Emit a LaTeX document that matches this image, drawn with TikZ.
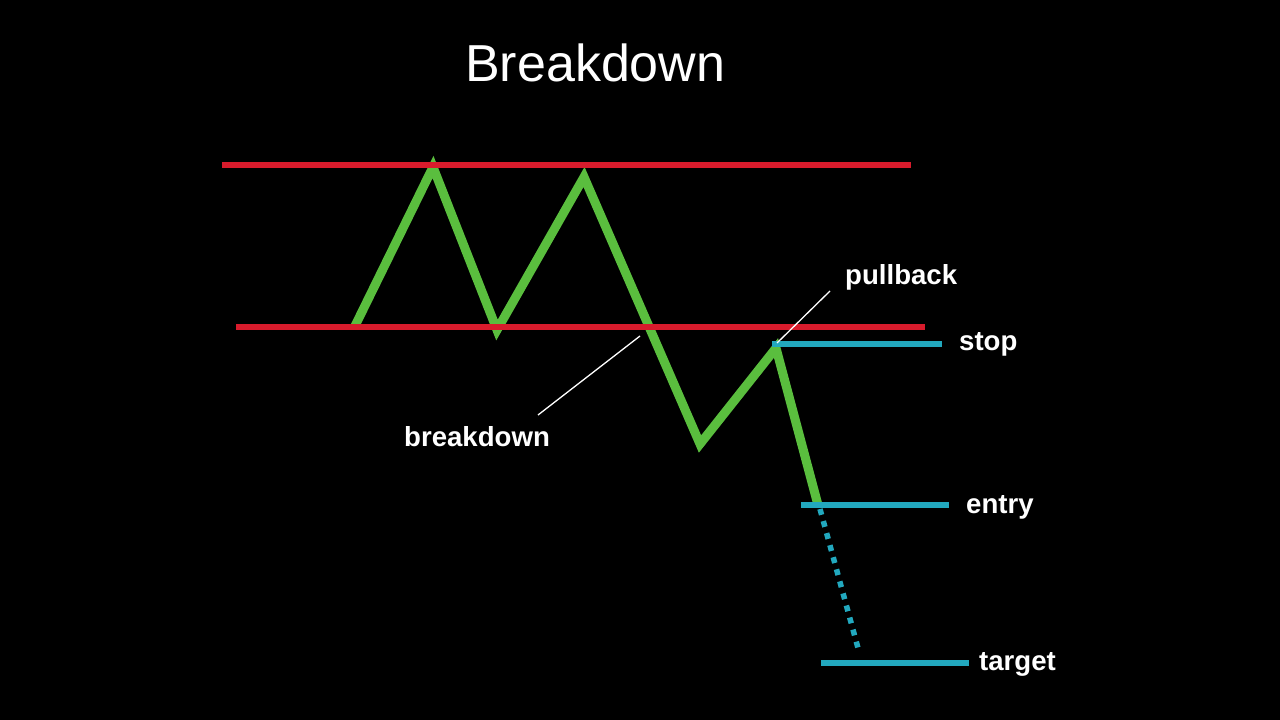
\documentclass[tikz,border=0pt]{standalone}
\usepackage{fontspec}
\setmainfont{Liberation Sans}
\begin{document}
\begin{tikzpicture}[x=1pt,y=-1pt,
  price/.style={draw=pgreen,line width=9pt,miter limit=10},
  level/.style={draw=pred,line width=6pt},
  tline/.style={draw=pcyan,line width=5.5pt},
  pointer/.style={draw=white,line width=1.3pt},
  lbl/.style={text=white,inner sep=0pt,anchor=base west,font=\fontsize{27.6}{32}\selectfont\bfseries},
  ttl/.style={text=white,inner sep=0pt,anchor=base west,font=\fontsize{52}{60}\selectfont}]
\definecolor{pgreen}{HTML}{5ABE3E}
\definecolor{pred}{HTML}{D81B2C}
\definecolor{pcyan}{HTML}{22A8BE}
\fill[black] (0,0) rectangle (1280,720);
\useasboundingbox (0,0) rectangle (1280,720);
% price vertices
\coordinate (p0) at (355,326);
\coordinate (p1) at (433,167);
\coordinate (p2) at (497,330);
\coordinate (p3) at (584,177);
\coordinate (p4) at (700,444);
\coordinate (p5) at (776,348);
\coordinate (p6) at (818,505);
\draw[price] (p0) -- (p1) -- (p2) -- (p3) -- (p4) -- (p5) -- (p6);
% red levels
\coordinate (r1a) at (222,165); \coordinate (r1b) at (911,165);
\coordinate (r2a) at (236,327); \coordinate (r2b) at (925,327);
\draw[level] (r1a) -- (r1b);
\draw[level] (r2a) -- (r2b);
% cyan levels
\coordinate (sa) at (772,344); \coordinate (sb) at (942,344);
\coordinate (ea) at (801,505); \coordinate (eb) at (949,505);
\coordinate (ta) at (821,663); \coordinate (tb) at (969,663);
\draw[tline] (sa) -- (sb);
\draw[tline] (ea) -- (eb);
\draw[tline] (ta) -- (tb);
\coordinate (d0) at (820,509); \coordinate (d1) at (858,648);
\draw[tline,dash pattern=on 6pt off 6.5pt] (d0) -- (d1);
% labels
\node[ttl] (title) at (465,81) {Breakdown};
\node[lbl] (pull) at (845,284) {pullback};
\node[lbl] (stop) at (959,350) {stop};
\node[lbl] (entry) at (966,513) {entry};
\node[lbl] (target) at (979,670) {target};
\node[lbl] (brk) at (404,446) {breakdown};
% pointers
\coordinate (pu0) at (830,291); \coordinate (pu1) at (777,343);
\coordinate (bk0) at (538,415); \coordinate (bk1) at (640,336);
\draw[pointer] (pu0) -- (pu1);
\draw[pointer] (bk0) -- (bk1);
\end{tikzpicture}
\end{document}
